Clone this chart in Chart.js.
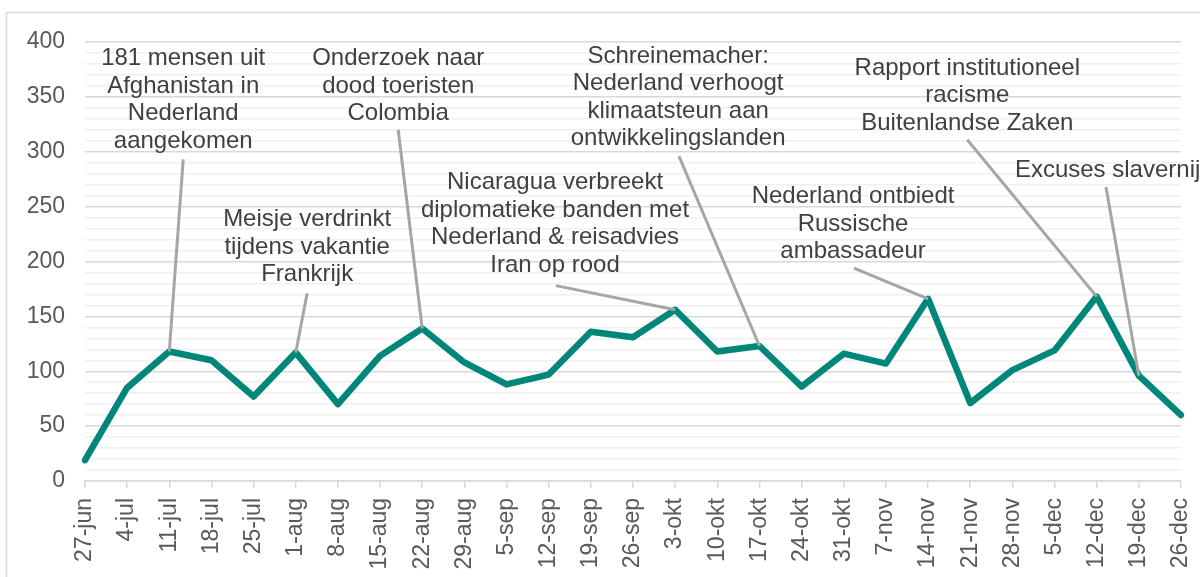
<!DOCTYPE html>
<html>
<head>
<meta charset="utf-8">
<script src="https://cdn.jsdelivr.net/npm/chart.js"></script>
<style>
  body { margin: 0; background: #fff; }
  #wrap { width: 1200px; height: 577px; position: relative; }
</style>
</head>
<body>
<div id="wrap">
  <canvas id="myChart"></canvas>
</div>

<script>
// DATA:
// week labels (x axis)
const weeks = ['27-jun', '4-jul', '11-jul', '18-jul', '25-jul', '1-aug', '8-aug', '15-aug', '22-aug', '29-aug',
  '5-sep', '12-sep', '19-sep', '26-sep', '3-okt', '10-okt', '17-okt', '24-okt', '31-okt', '7-nov',
  '14-nov', '21-nov', '28-nov', '5-dec', '12-dec', '19-dec', '26-dec']
// values per week
const mentions = [19, 85, 118, 110, 77, 117, 70, 114, 139, 108,
  88, 97, 136, 131, 156, 118, 123, 86, 116, 107,
  166, 71, 101, 119, 168, 96, 60]
// y axis ticks
const yMin = 0
const yMax = 400
const yLabelStep = 50

// events: the week they point at, and their text
const eventWeeks = ['11-jul', '22-aug', '1-aug', '3-okt', '17-okt', '14-nov', '12-dec', '19-dec']
const eventTexts = [
  ['181 mensen uit', 'Afghanistan in', 'Nederland', 'aangekomen'],
  ['Onderzoek naar', 'dood toeristen', 'Colombia'],
  ['Meisje verdrinkt', 'tijdens vakantie', 'Frankrijk'],
  ['Nicaragua verbreekt', 'diplomatieke banden met', 'Nederland & reisadvies', 'Iran op rood'],
  ['Schreinemacher:', 'Nederland verhoogt', 'klimaatsteun aan', 'ontwikkelingslanden'],
  ['Nederland ontbiedt', 'Russische', 'ambassadeur'],
  ['Rapport institutioneel', 'racisme', 'Buitenlandse Zaken'],
  ['Excuses slavernij']
]

// where the labels sit (in axis units: category index, value) - layout only
const eventPlacement = [
  { tx: 2.33, ty: 385, lx: 2.33, ly: 293, align: 'center' },
  { tx: 7.43, ty: 385, lx: 7.43, ly: 320, align: 'center' },
  { tx: 5.27, ty: 238, lx: 5.27, ly: 171, align: 'center' },
  { tx: 11.15, ty: 272, lx: 11.17, ly: 178, align: 'center' },
  { tx: 14.07, ty: 387, lx: 14.09, ly: 296, align: 'center' },
  { tx: 18.22, ty: 259, lx: 18.24, ly: 194, align: 'center' },
  { tx: 20.93, ty: 376, lx: 20.93, ly: 311, align: 'center' },
  { tx: 22.06, ty: 283, lx: 24.22, ly: 268, align: 'left' }
]

// frame around the chart
const framePlugin = {
  id: 'frame',
  beforeDraw(chart) {
    const ctx = chart.ctx
    ctx.save()
    ctx.strokeStyle = '#d9d9d9'
    ctx.lineWidth = 1.5
    ctx.strokeRect(6.5, 12.5, 1300, 700)
    ctx.restore()
  }
}

// leader lines + event texts
const eventsPlugin = {
  id: 'events',
  afterDatasetsDraw(chart) {
    const ctx = chart.ctx
    const x = chart.scales.x
    const y = chart.scales.y
    ctx.save()
    eventWeeks.forEach((week, i) => {
      const idx = weeks.indexOf(week)
      const p = eventPlacement[i]
      // leader line
      ctx.strokeStyle = '#a6a6a6'
      ctx.lineWidth = 3
      ctx.beginPath()
      ctx.moveTo(x.getPixelForValue(p.lx), y.getPixelForValue(p.ly))
      ctx.lineTo(x.getPixelForValue(idx), y.getPixelForValue(mentions[idx]))
      ctx.stroke()
      // text
      ctx.fillStyle = '#404040'
      ctx.font = '24px "Liberation Sans", Arial, sans-serif'
      ctx.textAlign = p.align
      ctx.textBaseline = 'middle'
      const tx = x.getPixelForValue(p.tx)
      const ty = y.getPixelForValue(p.ty)
      eventTexts[i].forEach((line, j) => {
        ctx.fillText(line, tx, ty + j * 27.5)
      })
    })
    ctx.restore()
  }
}

const ctx = document.getElementById('myChart')

new Chart(ctx, {
  type: 'line',
  data: {
    labels: weeks,
    datasets: [{
      data: mentions,
      borderColor: '#00877a',
      borderWidth: 6.5,
      borderCapStyle: 'round',
      borderJoinStyle: 'round',
      pointRadius: 0,
      tension: 0,
      fill: false
    }]
  },
  options: {
    responsive: true,
    maintainAspectRatio: false,
    animation: false,
    layout: { padding: { left: 0, right: 19, top: 42, bottom: 0 } },
    plugins: {
      legend: { display: false },
      tooltip: { enabled: false }
    },
    scales: {
      x: {
        offset: false,
        grid: { drawOnChartArea: false, drawTicks: true, tickLength: 7, color: '#d9d9d9', lineWidth: 1.5 },
        border: { color: '#d9d9d9', width: 1.5 },
        ticks: {
          autoSkip: false,
          minRotation: 90,
          maxRotation: 90,
          padding: 10,
          color: '#595959',
          font: { family: '"Liberation Sans", Arial, sans-serif', size: 23 }
        },
        afterFit(scale) {
          scale.height = 96
          scale.paddingLeft = 0
          scale.paddingRight = 0
        }
      },
      y: {
        min: yMin,
        max: yMax,
        grid: {
          drawTicks: false,
          color: c => (c.tick.value % yLabelStep === 0 ? '#d9d9d9' : '#f0f0f0'),
          lineWidth: 1.5
        },
        border: { display: false },
        ticks: {
          stepSize: 10,
          autoSkip: false,
          padding: 20,
          color: '#595959',
          font: { family: '"Liberation Sans", Arial, sans-serif', size: 23 },
          callback: v => (v % yLabelStep === 0 ? v : '')
        },
        afterFit(scale) {
          scale.width = 85
          scale.paddingTop = 0
          scale.paddingBottom = 0
        }
      }
    }
  },
  plugins: [framePlugin, eventsPlugin]
})
</script>
</body>
</html>
